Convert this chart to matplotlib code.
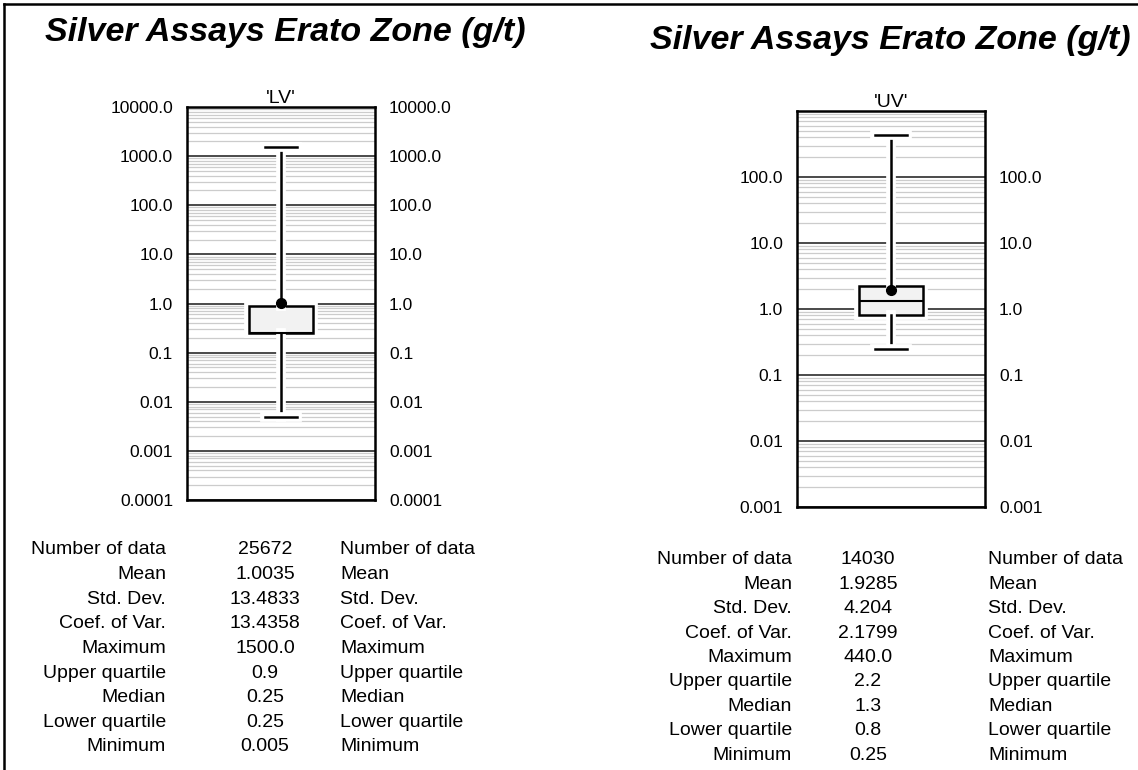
import numpy as np
import matplotlib as mpl
mpl.use('Agg')
import matplotlib.pyplot as plt
import matplotlib.patheffects as pe
from matplotlib.ticker import FixedLocator, FixedFormatter, LogLocator, NullFormatter
from matplotlib.lines import Line2D

plt.rcParams['font.family'] = ['Liberation Sans', 'DejaVu Sans']

W, H = 1138, 770
title = 'Silver Assays Erato Zone (g/t)'
stat_names = ['Number of data', 'Mean', 'Std. Dev.', 'Coef. of Var.', 'Maximum',
              'Upper quartile', 'Median', 'Lower quartile', 'Minimum']

# 'LV' domain
lv_label = "'LV'"
lv_stats = {'n': 25672, 'mean': 1.0035, 'std': 13.4833, 'cv': 13.4358, 'max': 1500.0,
            'q3': 0.9, 'med': 0.25, 'q1': 0.25, 'min': 0.005}
lv_text = ['25672', '1.0035', '13.4833', '13.4358', '1500.0', '0.9', '0.25', '0.25', '0.005']
lv_ticks = [0.0001, 0.001, 0.01, 0.1, 1.0, 10.0, 100.0, 1000.0, 10000.0]
lv_ticklabels = ['0.0001', '0.001', '0.01', '0.1', '1.0', '10.0', '100.0', '1000.0', '10000.0']
lv_ylim = (0.0001, 10000.0)

# 'UV' domain
uv_label = "'UV'"
uv_stats = {'n': 14030, 'mean': 1.9285, 'std': 4.204, 'cv': 2.1799, 'max': 440.0,
            'q3': 2.2, 'med': 1.3, 'q1': 0.8, 'min': 0.25}
uv_text = ['14030', '1.9285', '4.204', '2.1799', '440.0', '2.2', '1.3', '0.8', '0.25']
uv_ticks = [0.001, 0.01, 0.1, 1.0, 10.0, 100.0]
uv_ticklabels = ['0.001', '0.01', '0.1', '1.0', '10.0', '100.0']
uv_ylim = (0.001, 1000.0)


def px_axes(fig, x0, y0, x1, y1):
    return fig.add_axes([x0 / W, 1 - y1 / H, (x1 - x0) / W, (y1 - y0) / H])


def draw_box(ax, st, label, ticks, ticklabels, ylim):
    bstats = [{'whislo': st['min'], 'q1': st['q1'], 'med': st['med'], 'q3': st['q3'],
               'whishi': st['max'], 'mean': st['mean'], 'fliers': []}]
    art = ax.bxp(bstats, positions=[1], widths=0.68, capwidths=0.35, showmeans=True,
                 patch_artist=True,
                 boxprops=dict(facecolor='#f2f2f2', edgecolor='black', lw=1.8),
                 whiskerprops=dict(color='black', lw=1.8),
                 capprops=dict(color='black', lw=1.8),
                 medianprops=dict(color='black', lw=1.5),
                 meanprops=dict(marker='o', markerfacecolor='black',
                                markeredgecolor='black', markersize=7))
    halo = [pe.Stroke(linewidth=7, foreground='white'), pe.Normal()]
    for key in ['whiskers', 'caps', 'boxes']:
        for a in art[key]:
            a.set_path_effects(halo)
    ax.set_yscale('log')
    ax.set_ylim(*ylim)
    ax.set_xlim(0, 2)
    ax.set_xticks([])
    ax.yaxis.set_major_locator(FixedLocator(ticks))
    ax.yaxis.set_major_formatter(FixedFormatter(ticklabels))
    ax.yaxis.set_minor_locator(LogLocator(base=10, subs=np.arange(2, 10)))
    ax.yaxis.set_minor_formatter(NullFormatter())
    ax.grid(True, which='major', axis='y', color='#4a4a4a', lw=1.4)
    ax.grid(True, which='minor', axis='y', color='#cccccc', lw=0.9)
    ax.set_axisbelow(True)
    ax.tick_params(axis='y', which='both', length=0, labelsize=12.5,
                   labelleft=True, labelright=True, pad=10)
    for s in ax.spines.values():
        s.set_linewidth(1.8)
    ax.set_title(label, fontsize=14, pad=2)


def draw_table(fig, values, x_lab, x_val, x_name, y0, step):
    for i, (name, val) in enumerate(zip(stat_names, values)):
        y = 1 - (y0 + i * step) / H
        fig.text(x_lab / W, y, name, ha='right', va='center', fontsize=14)
        fig.text(x_val / W, y, val, ha='center', va='center', fontsize=14)
        fig.text(x_name / W, y, name, ha='left', va='center', fontsize=14)


fig = plt.figure(figsize=(W / 100, H / 100), dpi=100)

# frame lines of the page
fig.add_artist(Line2D([4 / W, 4 / W], [0, 1 - 4 / H], color='black', lw=1.8,
                      transform=fig.transFigure))
fig.add_artist(Line2D([4 / W, 1], [1 - 4 / H, 1 - 4 / H], color='black', lw=1.8,
                      transform=fig.transFigure))

fig.text(285 / W, 1 - 33 / H, title, ha='center', va='center', fontsize=24.5,
         fontweight='bold', fontstyle='italic')
fig.text(890 / W, 1 - 40 / H, title, ha='center', va='center', fontsize=24.5,
         fontweight='bold', fontstyle='italic')

ax1 = px_axes(fig, 187, 107, 375, 500)
draw_box(ax1, lv_stats, lv_label, lv_ticks, lv_ticklabels, lv_ylim)
ax2 = px_axes(fig, 797, 111, 985, 507)
draw_box(ax2, uv_stats, uv_label, uv_ticks, uv_ticklabels, uv_ylim)

draw_table(fig, lv_text, 166, 265, 340, 550, 24.6)
draw_table(fig, uv_text, 792, 868, 988, 560, 24.4)

plt.savefig('out.png', dpi=100)
plt.close()
